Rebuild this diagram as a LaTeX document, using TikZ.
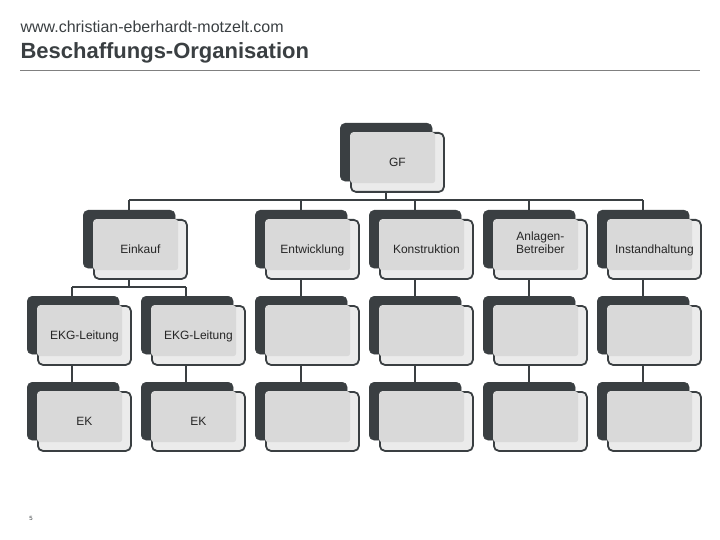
\documentclass[tikz,border=0pt]{standalone}
\usepackage{fontspec}
\setmainfont{Liberation Sans}
\definecolor{dk}{HTML}{3A3F42}
\definecolor{fr}{HTML}{EBEBEB}
\definecolor{fi}{HTML}{D9D9D9}
\tikzset{
 back/.style={draw=dk,fill=dk,rounded corners=5pt,minimum width=92pt,minimum height=58pt,anchor=north west,inner sep=0pt},
 front/.style={draw=dk,line width=1.8pt,fill=fr,rounded corners=5pt,minimum width=93pt,minimum height=59pt,anchor=north west,inner sep=0pt},
 inner/.style={fill=fi,rounded corners=3pt,minimum width=85pt,minimum height=51pt,anchor=north west,inner sep=0pt},
 lbl/.style={font=\fontsize{12}{13}\selectfont,align=center,text=black!85,text height=8.6pt,text depth=2.4pt},
 con/.style={draw=dk,line width=2.8pt}
}
\newcommand{\obox}[4]{%
 \node[back] (#1) at (#2,#3) {};
 \node[front] (#1f) at (#2+10,#3+9) {};
 \node[inner] (#1i) at (#2+10,#3+9) {};
 \node[lbl] (#1t) at ([yshift=-1pt]#1f.center) {#4};
}
\begin{document}
\begin{tikzpicture}[x=1pt,y=-1pt]
\useasboundingbox (0,0) rectangle (720,540);
\node[anchor=west,font=\fontsize{16}{18}\selectfont,text=dk] (url) at (17,27) {www.christian-eberhardt-motzelt.com};
\node[anchor=west,font=\bfseries\fontsize{22}{24}\selectfont,text=dk] (title) at (17,53) {Beschaffungs-Organisation};
\coordinate (l1) at (20,70); \coordinate (l2) at (700,70);
\draw[gray,line width=0.8pt] (l1) -- (l2);
\node[font=\fontsize{6}{7}\selectfont,text=dk] (pg) at (31,518) {5};
% connectors
\coordinate (busL) at (129,200); \coordinate (busR) at (643,200);
\coordinate (gfb) at (386,200);
\draw[con] (busL) -- (busR);
\draw[con] (386,185) -- (gfb);
\foreach \x in {129,301,415,529,643} \draw[con] (\x,200) -- (\x,212);
\draw[con] (129,270) -- (129,287);
\draw[con] (72,287) -- (186,287);
\foreach \x in {72,186} {\draw[con] (\x,287) -- (\x,298); \draw[con] (\x,355) -- (\x,384);}
\foreach \x in {301,415,529,643} {\draw[con] (\x,265) -- (\x,298); \draw[con] (\x,355) -- (\x,384);}
% boxes
\obox{gf}{340}{123}{GF}
\obox{ek}{83}{210}{Einkauf}
\obox{en}{255}{210}{Entwicklung}
\obox{ko}{369}{210}{Konstruktion}
\obox{an}{483}{210}{Anlagen-\\Betreiber}
\obox{in}{597}{210}{Instandhaltung}
\obox{ea}{27}{296}{EKG-Leitung}
\obox{eb}{141}{296}{EKG-Leitung}
\obox{ec}{255}{296}{}
\obox{ed}{369}{296}{}
\obox{ee}{483}{296}{}
\obox{ef}{597}{296}{}
\obox{ka}{27}{382}{EK}
\obox{kb}{141}{382}{EK}
\obox{kc}{255}{382}{}
\obox{kd}{369}{382}{}
\obox{ke}{483}{382}{}
\obox{kf}{597}{382}{}
\end{tikzpicture}
\end{document}
